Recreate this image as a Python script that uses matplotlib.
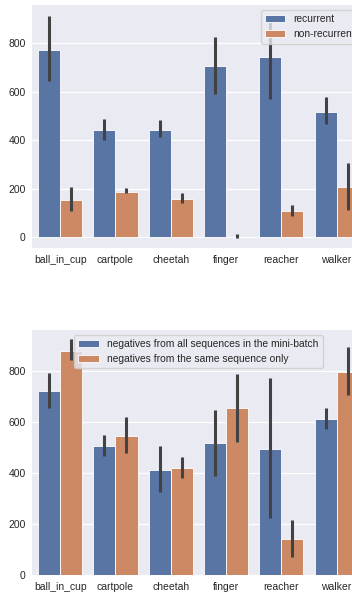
import matplotlib.pyplot as plt
import numpy as np

plt.rcParams['font.family'] = ['Liberation Sans', 'DejaVu Sans']

tasks = ["ball_in_cup", "cartpole", "cheetah", "finger", "reacher", "walker"]

# top panel: recurrent vs non-recurrent
rec_mean = [772, 442, 442, 707, 742, 517]
rec_lo = [645, 401, 412, 590, 571, 468]
rec_hi = [912, 487, 482, 828, 896, 580]
nonrec_mean = [155, 188, 158, 2, 110, 207]
nonrec_lo = [110, 181, 140, -4, 89, 114]
nonrec_hi = [207, 203, 183, 12, 133, 307]

# bottom panel: negatives sampling
all_mean = [720, 506, 412, 517, 494, 610]
all_lo = [656, 468, 325, 388, 224, 573]
all_hi = [790, 547, 505, 648, 770, 653]
same_mean = [879, 546, 421, 653, 142, 796]
same_lo = [842, 479, 382, 523, 70, 706]
same_hi = [923, 618, 462, 787, 216, 892]

BLUE = "#5975a4"
ORANGE = "#cc8963"
ERR = "#424242"
BG = "#eaeaf2"


def bar_panel(ax, series, labels, ylim, legend_loc):
    x = np.arange(len(tasks))
    offsets = [-0.2, 0.2]
    colors = [BLUE, ORANGE]
    for (mean, lo, hi), off, col, lab in zip(series, offsets, colors, labels):
        mean = np.array(mean)
        yerr = [mean - np.array(lo), np.array(hi) - mean]
        ax.bar(x + off, mean, width=0.4, color=col, edgecolor="white",
               linewidth=0.6, label=lab, zorder=2)
        ax.errorbar(x + off, mean, yerr=yerr, fmt="none", ecolor=ERR,
                    elinewidth=2.2, capsize=0, zorder=3)
    ax.set_facecolor(BG)
    ax.grid(True, axis="y", color="white", linewidth=0.9, zorder=0)
    ax.set_axisbelow(True)
    for s in ax.spines.values():
        s.set_visible(False)
    ax.set_xticks(x)
    ax.set_xticklabels(tasks)
    ax.set_yticks([0, 200, 400, 600, 800])
    ax.tick_params(length=0, labelsize=7.5, colors="#262626", pad=5)
    ax.set_xlim(-0.5, 5.5)
    ax.set_ylim(*ylim)
    leg = ax.legend(loc=legend_loc, fontsize=7.4, frameon=True,
                    facecolor=BG, edgecolor="#cccccc", framealpha=0.8)
    for t in leg.get_texts():
        t.set_color("#262626")


fig = plt.figure(figsize=(3.52, 5.92), dpi=100)
ax1 = fig.add_axes([0.0923, 0.581, 0.9426, 0.4105])
ax2 = fig.add_axes([0.0923, 0.0287, 0.9426, 0.4139])

bar_panel(ax1, [(rec_mean, rec_lo, rec_hi), (nonrec_mean, nonrec_lo, nonrec_hi)],
          ["recurrent", "non-recurrent"], (-44, 958), "upper right")
bar_panel(ax2, [(all_mean, all_lo, all_hi), (same_mean, same_lo, same_hi)],
          ["negatives from all sequences in the mini-batch",
           "negatives from the same sequence only"], (0, 960), "upper center")

fig.savefig("out.png", dpi=100)
